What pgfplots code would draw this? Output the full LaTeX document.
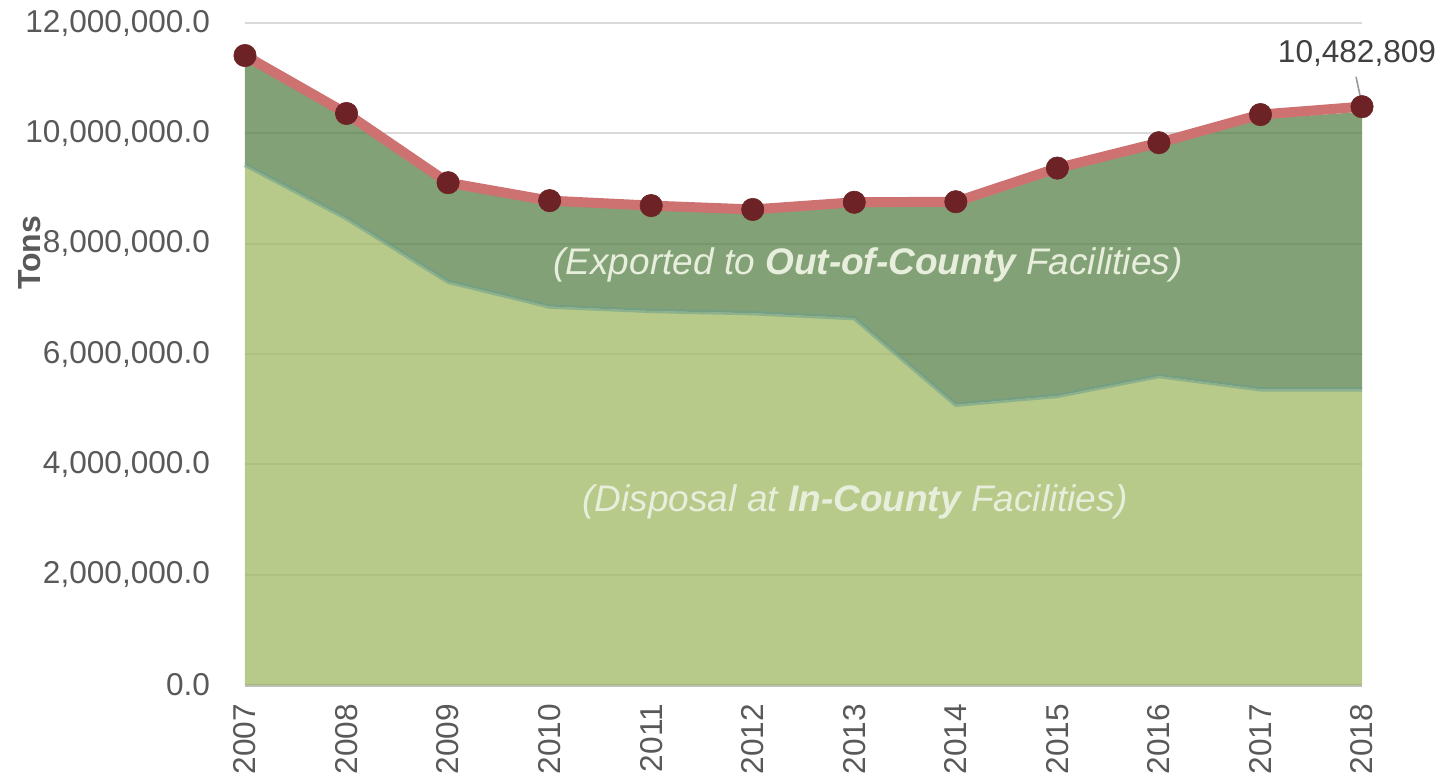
\documentclass[border=0pt]{standalone}
\usepackage{fontspec}
\setmainfont{Liberation Sans}
\usepackage{graphicx}
\usepackage{pgfplots}
\usepackage{pgfplotstable}
\pgfplotsset{compat=1.18}
\usepgfplotslibrary{fillbetween}

\definecolor{lightarea}{HTML}{A0B863}
\definecolor{darkarea}{HTML}{5A8248}
\definecolor{tealedge}{HTML}{6A9E8C}
\definecolor{redline}{HTML}{CD7171}
\definecolor{dotc}{HTML}{6D2326}
\definecolor{tickgray}{HTML}{595959}
\definecolor{gridgray}{HTML}{D9D9D9}
\definecolor{axisgray}{HTML}{BFBFBF}
\definecolor{labelc}{HTML}{E8EEDC}
\definecolor{annogray}{HTML}{404040}

\pgfplotstableread{
x incounty area total
0 9430000 11330000 11410000
1 8460000 10280000 10360000
2 7310000 9020000 9105000
3 6860000 8700000 8780000
4 6780000 8610000 8690000
5 6740000 8540000 8620000
6 6650000 8670000 8750000
7 5080000 8680000 8760000
8 5240000 9290000 9370000
9 5600000 9750000 9830000
10 5360000 10260000 10340000
11 5360000 10390000 10482809
}\datatable

\begin{document}
\begin{tikzpicture}
\begin{axis}[
  scale only axis,
  width=558.5pt, height=331pt,
  xmin=0, xmax=11, ymin=0, ymax=12000000,
  clip=false,
  xtick={0,...,11},
  xticklabels={2007,2008,2009,2010,2011,2012,2013,2014,2015,2016,2017,2018},
  ytick={0,2000000,4000000,6000000,8000000,10000000,12000000},
  scaled y ticks=false,
  major tick length=0pt,
  ymajorgrids,
  major grid style={color=gridgray, line width=1pt},
  axis x line*=bottom,
  axis y line*=left,
  x axis line style={draw=axisgray, line width=1.5pt, -},
  y axis line style={draw=none},
  ticklabel style={font=\fontsize{15.8}{19}\selectfont, text=tickgray},
  /pgf/number format/assume math mode=true,
  yticklabel style={xshift=-14pt, /pgf/number format/.cd, fixed, fixed zerofill, precision=1, 1000 sep={,}},
  xticklabel style={yshift=-6pt, rotate=90, anchor=east},
  ylabel={Tons},
  ylabel style={at={(rel axis cs:-0.1925,0.653)}, anchor=center, font=\fontsize{16}{19}\selectfont\bfseries, text=tickgray},
]
\coordinate (O) at (rel axis cs:0,0);
\coordinate (T) at (rel axis cs:1,1);

% In-county (light) area
\addplot[draw=none, fill=lightarea, fill opacity=0.75] table[x=x, y=incounty] {\datatable} \closedcycle;

% boundary paths
\addplot[draw=none, name path=A, forget plot] table[x=x, y=incounty] {\datatable};
\addplot[draw=none, name path=B, forget plot] table[x=x, y=area] {\datatable};
% Exported (dark) area
\addplot[fill=darkarea, fill opacity=0.75, draw=none] fill between[of=A and B];

% teal glow along the boundary
\addplot[draw=tealedge, draw opacity=0.55, line width=2.2pt, line join=round] table[x=x, y=incounty] {\datatable};

% Total line with markers
\addplot[color=redline, line width=5pt, line join=round,
  mark=*, mark size=5.6pt, mark options={fill=dotc, draw=dotc, line width=0.3pt}]
  table[x=x, y=total] {\datatable};

% annotation
\draw[color=gray!80, line width=0.8pt] ([xshift=-3pt,yshift=15pt]axis cs:11,10482809) -- ([yshift=1pt]axis cs:11,10482809);
\node[font=\fontsize{15.8}{19}\selectfont, text=annogray, xshift=-2.5pt, yshift=26.4pt] at (axis cs:11,10482809) {10,482,809};

% area labels
\node[font=\fontsize{18.5}{22}\selectfont\itshape, text=labelc] at (axis cs:6.135,7610000) {(Exported to \textbf{Out-of-County} Facilities)};
\node[font=\fontsize{18.5}{22}\selectfont\itshape, text=labelc] at (axis cs:6.007,3320000) {(Disposal at \textbf{In-County} Facilities)};
\end{axis}
\pgfresetboundingbox
\path ([shift={(-122.5pt,-48.5pt)}]O) rectangle ([shift={(41.5pt,11.5pt)}]T);
\end{tikzpicture}
\end{document}
